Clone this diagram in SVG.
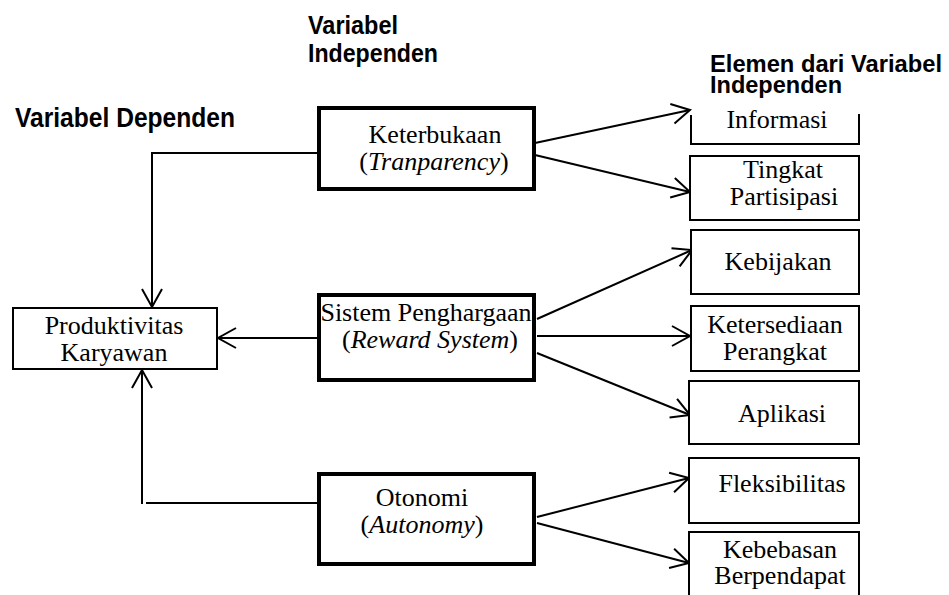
<svg xmlns="http://www.w3.org/2000/svg" width="949" height="595" viewBox="0 0 949 595">
<style>
.hdr{font-family:"Liberation Sans",Arial,sans-serif;font-weight:bold;fill:#000}
.t{font-family:"Liberation Serif","Times New Roman",serif;font-size:26px;fill:#000;text-anchor:middle}
.i{font-style:italic}
.thick{fill:#fff;stroke:#000;stroke-width:4}
.thin{fill:#fff;stroke:#000;stroke-width:2}
.ln{fill:none;stroke:#000;stroke-width:2}
.arr{fill:none;stroke:#000;stroke-width:2;marker-end:url(#ah)}
</style>
<defs>
<marker id="ah" markerUnits="userSpaceOnUse" orient="auto" markerWidth="24" markerHeight="24" viewBox="-20 -12 24 24" refX="0" refY="0" overflow="visible">
<path d="M-18,-10 L0,0 L-18,10" fill="none" stroke="#000" stroke-width="2"/>
</marker>
</defs>
<rect width="949" height="595" fill="#fff"/>

<g id="headers">
<text class="hdr" x="308" y="34" font-size="26" textLength="90" lengthAdjust="spacingAndGlyphs">Variabel</text>
<text class="hdr" x="308" y="62" font-size="26" textLength="130" lengthAdjust="spacingAndGlyphs">Independen</text>
<text class="hdr" x="15" y="127" font-size="28" textLength="220" lengthAdjust="spacingAndGlyphs">Variabel Dependen</text>
<text class="hdr" x="710" y="72" font-size="24" textLength="232" lengthAdjust="spacingAndGlyphs">Elemen dari Variabel</text>
<text class="hdr" x="710" y="93" font-size="24" textLength="132" lengthAdjust="spacingAndGlyphs">Independen</text>
</g>

<g id="connectors">
<polyline class="ln" points="318,153 152,153 152,289"/>
<line class="arr" x1="152" y1="200" x2="152" y2="307"/>
<line class="arr" x1="318" y1="338" x2="218" y2="338"/>
<line class="arr" x1="142" y1="504" x2="142" y2="370"/>
<line class="ln" x1="146" y1="503" x2="318" y2="503"/>
<line class="arr" x1="535" y1="143" x2="690" y2="110"/>
<line class="arr" x1="535" y1="155" x2="690" y2="192"/>
<line class="arr" x1="537" y1="319" x2="692" y2="250"/>
<line class="arr" x1="537" y1="336" x2="690" y2="336"/>
<line class="arr" x1="537" y1="353" x2="690" y2="415"/>
<line class="arr" x1="537" y1="517" x2="689" y2="478"/>
<line class="arr" x1="537" y1="523" x2="689" y2="563"/>
</g>

<g id="produktivitas">
<rect class="thin" x="13" y="308" width="204" height="61"/>
<text class="t" x="114" y="334">Produktivitas</text>
<text class="t" x="114" y="361">Karyawan</text>
</g>

<g id="keterbukaan">
<rect class="thick" x="319" y="108" width="215" height="81"/>
<text class="t" x="435" y="143">Keterbukaan</text>
<text class="t" x="434" y="170">(<tspan class="i">Tranparency</tspan>)</text>
</g>

<g id="sistem">
<rect class="thick" x="319" y="295" width="215" height="85"/>
<text class="t" x="426" y="321">Sistem Penghargaan</text>
<text class="t" x="430" y="348">(<tspan class="i">Reward System</tspan>)</text>
</g>

<g id="otonomi">
<rect class="thick" x="319" y="474" width="215" height="90"/>
<text class="t" x="422" y="506">Otonomi</text>
<text class="t" x="422" y="533">(<tspan class="i">Autonomy</tspan>)</text>
</g>

<g id="informasi">
<path class="ln" d="M691,115 L691,144 L859,144 L859,114"/>
<text class="t" x="777" y="128">Informasi</text>
</g>

<g id="tingkat">
<rect class="thin" x="690" y="156" width="169" height="64"/>
<text class="t" x="783" y="178">Tingkat</text>
<text class="t" x="784" y="205">Partisipasi</text>
</g>

<g id="kebijakan">
<rect class="thin" x="691" y="230" width="168" height="64"/>
<text class="t" x="778" y="270">Kebijakan</text>
</g>

<g id="ketersediaan">
<rect class="thin" x="691" y="306" width="168" height="65"/>
<text class="t" x="775" y="333">Ketersediaan</text>
<text class="t" x="775" y="360">Perangkat</text>
</g>

<g id="aplikasi">
<rect class="thin" x="689" y="381" width="170" height="63"/>
<text class="t" x="782" y="422">Aplikasi</text>
</g>

<g id="fleksibilitas">
<rect class="thin" x="689" y="458" width="170" height="65"/>
<text class="t" x="782" y="492">Fleksibilitas</text>
</g>

<g id="kebebasan">
<rect class="thin" x="689" y="532" width="170" height="70"/>
<text class="t" x="780" y="558" font-size="25">Kebebasan</text>
<text class="t" x="780" y="584" font-size="25">Berpendapat</text>
</g>
</svg>
